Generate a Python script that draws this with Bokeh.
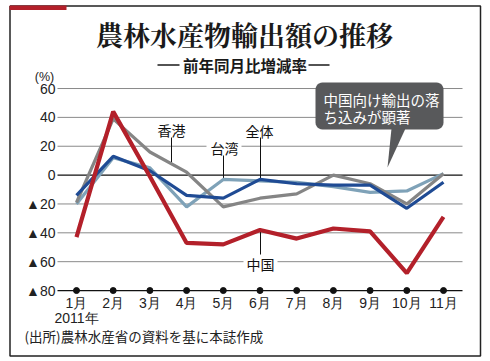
from bokeh.plotting import figure
from bokeh.models import Range1d
from bokeh.core.properties import value
from bokeh.embed import file_html
from bokeh.resources import INLINE
import math

# ---- data ----
months = ["1月", "2月", "3月", "4月", "5月", "6月", "7月", "8月", "9月", "10月", "11月"]
month_idx = list(range(1, 12))
overall = [-14, 13, 3, -14, -16, -3, -6, -7, -7, -23, -5]
china = [-43, 44, -1, -47, -48, -38, -44, -37, -39, -68, -29]
hongkong = [-19, 39, 16, 2, -22, -16, -13, 0, -6, -20, 1]
taiwan = [-20, 12, 5, -22, -3, -4, -5, -8, -12, -11, 1]
y_ticks = [60, 40, 20, 0, -20, -40, -60, -80]
y_tick_labels = ["60", "40", "20", "0", "▲20", "▲40", "▲60", "▲80"]

# ---- geometry (picture pixels -> data) ----
W, H = 482, 358
X1 = 76.0     # x of month 1
DX = 36.7     # px per month
Y0 = 174.6    # y of value 0
DY = 1.443    # px per unit


def fx(px):
    return 1 + (px - X1) / DX


def fy(py):
    return (Y0 - py) / DY


p = figure(width=W, height=H,
           x_range=Range1d(fx(0), fx(W)),
           y_range=Range1d(fy(H), fy(0)),
           output_backend="svg", toolbar_location=None,
           x_axis_type=None, y_axis_type=None, min_border=0,
           outline_line_color=None)
p.background_fill_color = "white"
p.border_fill_color = "white"
p.grid.grid_line_color = None

JP = value("Noto Sans CJK JP")
NUM = value("Liberation Sans")

# outer frame
fx_l, fx_r, fy_t, fy_b = fx(9.5), fx(480), fy(5.5), fy(355.5)
p.line([fx_l, fx_r, fx_r, fx_l, fx_l], [fy_t, fy_t, fy_b, fy_b, fy_t],
       line_color="#222222", line_width=1.5)
p.quad(left=fx(9), right=fx(66), top=fy(5), bottom=fy(9.5),
       fill_color="#b3202a", line_color=None)

# title
p.text(x=[fx(244)], y=[fy(34)], text=["農林水産物輸出額の推移"],
       text_font=value("Noto Serif CJK JP"), text_font_size="27px", text_font_style="bold",
       text_align="center", text_baseline="middle", text_color="#1a1a1a")
p.text(x=[fx(244.5)], y=[fy(64)], text=["前年同月比増減率"],
       text_font=JP, text_font_size="15.5px", text_font_style="bold",
       text_align="center", text_baseline="middle", text_color="#1a1a1a")
p.segment(x0=[fx(157), fx(308)], y0=[fy(64.5), fy(64.5)],
          x1=[fx(179), fx(329)], y1=[fy(64.5), fy(64.5)],
          line_color="#1a1a1a", line_width=1.3)
p.text(x=[fx(44)], y=[fy(76)], text=["(%)"],
       text_font=NUM, text_font_size="12.5px",
       text_align="center", text_baseline="middle", text_color="#222222")

# grid lines
grid_colors = ["#8a8a8a" if t not in (0, -80) else "#111111" for t in y_ticks]
grid_widths = [1 if t not in (0, -80) else 1.3 for t in y_ticks]
p.segment(x0=[fx(57)] * len(y_ticks), y0=y_ticks,
          x1=[fx(462)] * len(y_ticks), y1=y_ticks,
          line_color=grid_colors, line_width=grid_widths)
p.scatter(month_idx, [-80] * len(month_idx), size=6, color="#111111")

# y tick labels
p.text(x=[fx(55)] * len(y_ticks), y=y_ticks, text=y_tick_labels,
       text_font=NUM, text_font_size="14px",
       text_align="right", text_baseline="middle", text_color="#222222")
# x tick labels
p.text(x=month_idx, y=[fy(302)] * len(month_idx), text=months,
       text_font=NUM, text_font_size="14px",
       text_align="center", text_baseline="middle", text_color="#222222")
p.text(x=[1], y=[fy(317)], text=["2011年"],
       text_font=NUM, text_font_size="14px",
       text_align="center", text_baseline="middle", text_color="#222222")
p.text(x=[fx(24)], y=[fy(335)], text=["(出所)農林水産省の資料を基に本誌作成"],
       text_font=JP, text_font_size="13.5px",
       text_align="left", text_baseline="middle", text_color="#222222")

# white gaps behind labels on grid lines
p.quad(left=[fx(206), fx(243)], right=[fx(241), fx(277)],
       top=[fy(140), fy(255)], bottom=[fy(153), fy(268)],
       fill_color="white", line_color=None)

# leader lines
p.segment(x0=[fx(171), fx(223), fx(260), fx(260)],
          y0=[fy(137), fy(155), fy(137), fy(254)],
          x1=[fx(171), fx(223), fx(260), fx(260)],
          y1=[fy(162), fy(178), fy(178), fy(230)],
          line_color="#111111", line_width=1)

# data lines
p.line(month_idx, taiwan, line_color="#7fa2b8", line_width=3.2)
p.line(month_idx, hongkong, line_color="#858585", line_width=3.2)
p.line(month_idx, overall, line_color="#1f4b94", line_width=3.2)
p.line(month_idx, china, line_color="#b3202a", line_width=4.2)

# series labels
p.text(x=[fx(171), fx(224), fx(259), fx(260)],
       y=[fy(129), fy(147), fy(130), fy(263)],
       text=["香港", "台湾", "全体", "中国"],
       text_font=JP, text_font_size="14px",
       text_align="center", text_baseline="middle", text_color="#111111")

# callout box (rounded) + tail
bx0, bx1, by0, by1, r = 315, 443, 82, 129, 7
pts = []
for cx, cy, a0 in [(bx1 - r, by0 + r, -90), (bx1 - r, by1 - r, 0),
                   (bx0 + r, by1 - r, 90), (bx0 + r, by0 + r, 180)]:
    for k in range(7):
        a = math.radians(a0 + k * 15)
        pts.append((cx + r * math.cos(a), cy + r * math.sin(a)))
p.patch([fx(x) for x, _ in pts], [fy(y) for _, y in pts],
        fill_color="#58595b", line_color=None)
p.patch([fx(391), fx(405), fx(387)], [fy(128), fy(128), fy(167)],
        fill_color="#58595b", line_color=None)
p.text(x=[fx(323), fx(323)], y=[fy(99), fy(116)],
       text=["中国向け輸出の落", "ち込みが顕著"],
       text_font=JP, text_font_size="14.5px",
       text_align="left", text_baseline="middle", text_color="white")

open("out.html", "w").write(file_html(p, INLINE))
